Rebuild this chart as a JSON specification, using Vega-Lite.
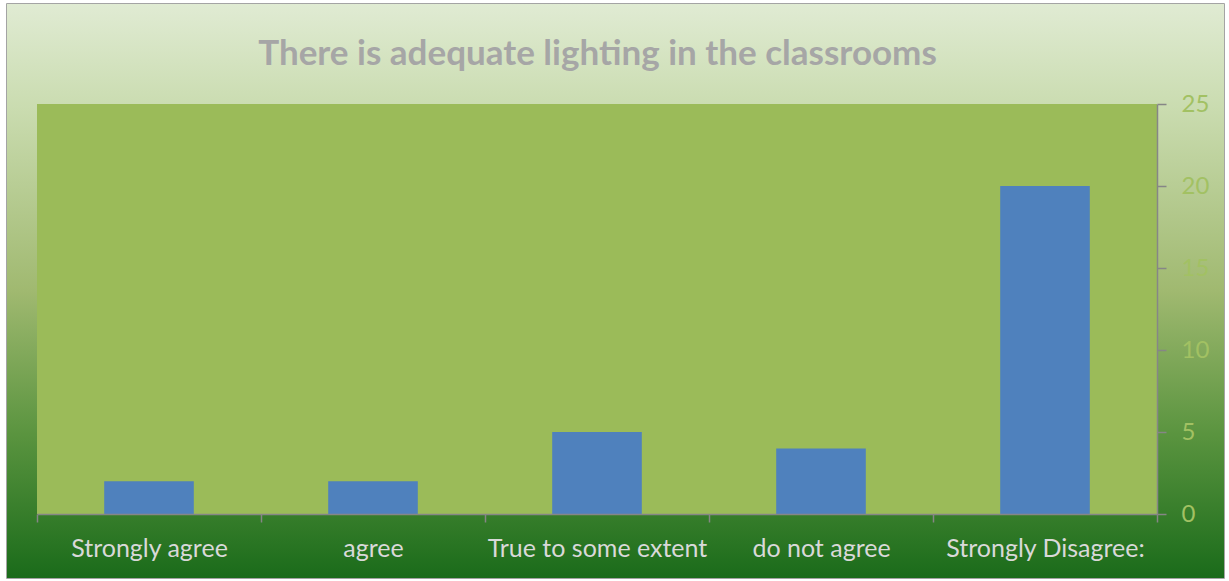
{
  "$schema": "https://vega.github.io/schema/vega-lite/v6.json",
  "width": 1217,
  "height": 574,
  "autosize": {"type": "none"},
  "padding": {"left": 7, "top": 4, "right": 5, "bottom": 3},
  "background": "white",
  "config": {
    "view": {"stroke": "#878787", "strokeWidth": 1.5}
  },
  "title": {
    "text": "There is adequate lighting in the classrooms",
    "frame": "group",
    "anchor": "middle",
    "offset": 0,
    "dy": 96,
    "dx": -18,
    "baseline": "alphabetic",
    "font": "Lato",
    "fontSize": 35,
    "fontWeight": "bold",
    "color": "#A6A6A6"
  },
  "data": {
    "values": [
      {"response": "Strongly agree", "count": 2},
      {"response": "agree", "count": 2},
      {"response": "True to some extent", "count": 5},
      {"response": "do not agree", "count": 4},
      {"response": "Strongly Disagree:", "count": 20}
    ]
  },
  "layer": [
    {
      "data": {"values": [{"bg": 1}]},
      "mark": {
        "type": "rect",
        "color": {
          "gradient": "linear",
          "x1": 0, "y1": 0, "x2": 0, "y2": 1,
          "stops": [
            {"offset": 0, "color": "#e0ebd3"},
            {"offset": 0.18, "color": "#cadcb0"},
            {"offset": 0.5, "color": "#a0b970"},
            {"offset": 0.75, "color": "#5a943f"},
            {"offset": 1, "color": "#1a6b1a"}
          ]
        }
      },
      "encoding": {}
    },
    {
      "mark": {"type": "bar", "color": "#9BBB59"},
      "encoding": {
        "x": {
          "field": "response",
          "type": "nominal",
          "sort": null,
          "scale": {"type": "band", "range": [30, 1150], "paddingInner": 0, "paddingOuter": 0},
          "axis": {
            "orient": "bottom",
            "offset": -64,
            "zindex": 1,
            "title": null,
            "tickBand": "extent",
            "tickSize": 8,
            "tickColor": "#868686",
            "tickWidth": 1.5,
            "domainColor": "#868686",
            "domainWidth": 1.5,
            "labelAngle": 0,
            "labelColor": "#D9D9D9",
            "labelFont": "Lato",
            "labelFontSize": 25,
            "labelLimit": 0,
            "labelPadding": 14,
            "grid": false
          }
        },
        "y": {"datum": 25, "type": "quantitative"}
      }
    },
    {
      "mark": {"type": "bar", "color": "#4F81BD", "width": {"band": 0.4}},
      "encoding": {
        "x": {"field": "response", "type": "nominal", "sort": null},
        "y": {
          "field": "count",
          "type": "quantitative",
          "scale": {"domain": [0, 25], "range": [510, 100], "nice": false, "zero": true},
          "axis": {
            "orient": "right",
            "offset": -67,
            "zindex": 1,
            "title": null,
            "values": [0, 5, 10, 15, 20, 25],
            "tickSize": 9,
            "tickColor": "#868686",
            "tickWidth": 1.5,
            "domainColor": "#868686",
            "domainWidth": 1.5,
            "labelColor": "#A2C163",
            "labelFont": "Lato",
            "labelFontSize": 24,
            "labelPadding": 15,
            "grid": false
          }
        }
      }
    }
  ]
}
